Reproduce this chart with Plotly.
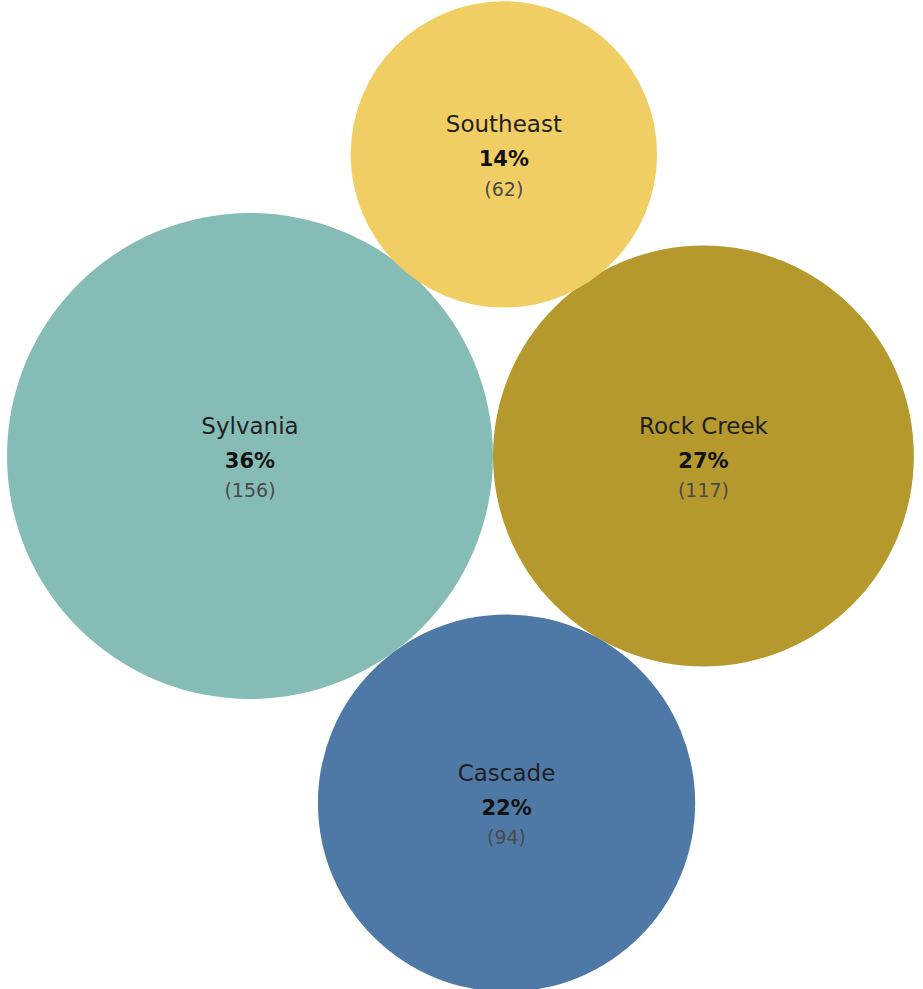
import math
import plotly.graph_objects as go

# Data
regions = ["Sylvania", "Rock Creek", "Southeast", "Cascade"]
counts = [156, 117, 62, 94]
colors = ["#86BCB6", "#B6992D", "#F1CE63", "#4E79A7"]

W, H = 923, 989
total = sum(counts)
pcts = [round(100 * c / total) for c in counts]

# radius proportional to sqrt(count) (area encodes value)
k = 243 / math.sqrt(max(counts))
r = [k * math.sqrt(c) for c in counts]

# simple tangent packing: A and B side by side, C above both, D below both
ax_, ay_ = r[0] + 7, 456
bx_, by_ = ax_ + r[0] + r[1], ay_
dAB = r[0] + r[1]

def tangent(ri, sign, gap=0.0):
    dA = r[0] + ri + gap
    dB = r[1] + ri + gap
    x = (dA ** 2 - dB ** 2 + dAB ** 2) / (2 * dAB)
    y = math.sqrt(max(dA ** 2 - x ** 2, 0))
    return ax_ + x, ay_ + sign * y

cx_, cy_ = tangent(r[2], -1, gap=-2.0)
dx_, dy_ = tangent(r[3], +1)
centers = [(ax_, ay_), (bx_, by_), (cx_, cy_), (dx_, dy_)]

fig = go.Figure()
shapes = []
for (x, y), rr, col in zip(centers, r, colors):
    shapes.append(dict(type="circle", xref="x", yref="y",
                       x0=x - rr, x1=x + rr, y0=y - rr, y1=y + rr,
                       fillcolor=col, line=dict(width=0), layer="below"))

xs = [c[0] for c in centers]
ys = [c[1] for c in centers]
FONT = "DejaVu Sans"
fig.add_trace(go.Scatter(x=xs, y=[y - 28 for y in ys], mode="text", text=regions,
                         textfont=dict(family=FONT, size=23, color="#1f1f1f"),
                         hoverinfo="skip"))
fig.add_trace(go.Scatter(x=xs, y=[y + 6.5 for y in ys], mode="text",
                         text=[f"<b>{p}%</b>" for p in pcts],
                         textfont=dict(family=FONT, size=21, color="#111111"),
                         hoverinfo="skip"))
fig.add_trace(go.Scatter(x=xs, y=[y + 36.5 for y in ys], mode="text",
                         text=[f"({c})" for c in counts],
                         textfont=dict(family=FONT, size=19, color="#4a4a4a"),
                         hoverinfo="skip"))

fig.update_layout(
    width=W, height=H, margin=dict(l=0, r=0, t=0, b=0),
    paper_bgcolor="white", plot_bgcolor="white",
    showlegend=False, shapes=shapes, hovermode=False,
    xaxis=dict(range=[0, W], visible=False, fixedrange=True),
    yaxis=dict(range=[H, 0], visible=False, fixedrange=True),
)
fig.write_html("out.html", config={"displayModeBar": False},
               post_script="document.body.style.margin='0';document.body.style.overflow='hidden';")
